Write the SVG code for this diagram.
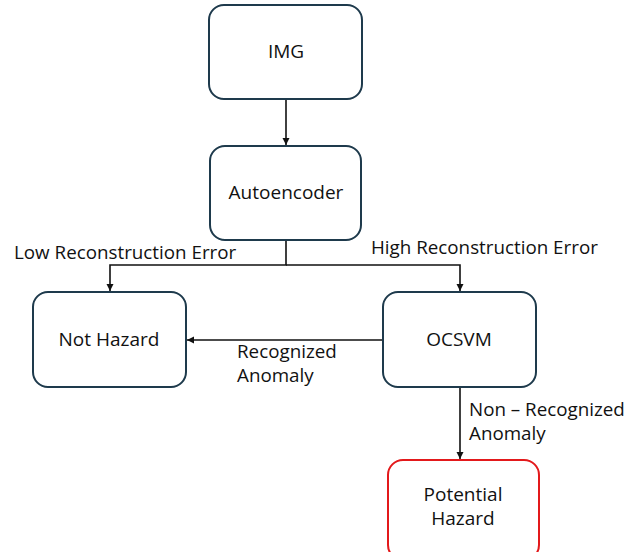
<svg xmlns="http://www.w3.org/2000/svg" width="634" height="552" viewBox="0 0 634 552">
<style>
.box{fill:#fff;stroke:#1e3a4c;stroke-width:2}
.red{fill:#fff;stroke:#e3191b;stroke-width:2}
.t{font-family:"Open Sans","Liberation Sans",sans-serif;font-size:19px;fill:#111;text-anchor:middle}
.l{font-family:"Open Sans","Liberation Sans",sans-serif;font-size:18.8px;fill:#111}
.c{fill:none;stroke:#111;stroke-width:1.6}
</style>
<defs>
<marker id="ah" markerWidth="8" markerHeight="8" refX="7" refY="4" orient="auto" markerUnits="userSpaceOnUse">
<path d="M0,0.5 L7,4 L0,7.5 Z" fill="#111"/>
</marker>
</defs>
<rect width="634" height="552" fill="#fff"/>
<g id="connectors">
<path class="c" d="M286,99 V145" marker-end="url(#ah)"/>
<path class="c" d="M286,240 V265 H110 V291" marker-end="url(#ah)"/>
<path class="c" d="M286,265 H460 V291" marker-end="url(#ah)"/>
<path class="c" d="M383,340 H187" marker-end="url(#ah)"/>
<path class="c" d="M460,387 V459" marker-end="url(#ah)"/>
<text class="l" x="14" y="259">Low Reconstruction Error</text>
<text class="l" x="371" y="254">High Reconstruction Error</text>
<text class="l" x="237" y="358">Recognized</text>
<text class="l" x="237" y="382">Anomaly</text>
<text class="l" x="469" y="416">Non – Recognized</text>
<text class="l" x="469" y="440">Anomaly</text>
</g>
<g id="img"><rect class="box" x="209" y="5" width="153" height="94" rx="15"/><text class="t" x="286" y="58">IMG</text></g>
<g id="autoencoder"><rect class="box" x="210" y="146" width="151" height="94" rx="15"/><text class="t" x="286" y="199">Autoencoder</text></g>
<g id="not-hazard"><rect class="box" x="33" y="292" width="153" height="95" rx="15"/><text class="t" x="109" y="346">Not Hazard</text></g>
<g id="ocsvm"><rect class="box" x="383" y="292" width="153" height="95" rx="15"/><text class="t" x="459" y="346">OCSVM</text></g>
<g id="potential-hazard"><rect class="red" x="388" y="460" width="151" height="100" rx="15"/><text class="t" x="463" y="501">Potential</text><text class="t" x="463" y="525">Hazard</text></g>
</svg>
